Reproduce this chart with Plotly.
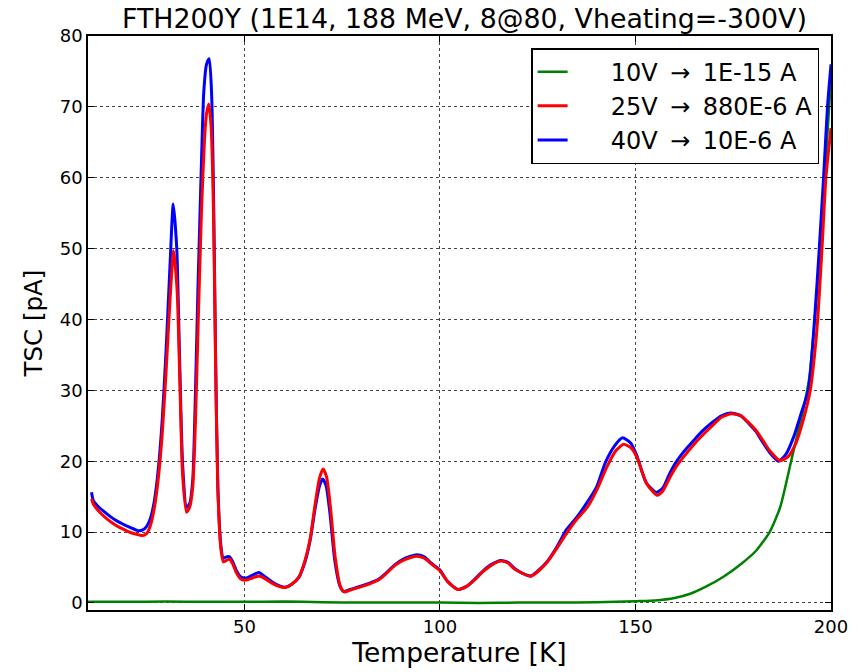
import plotly.graph_objects as go

# ---- data ----
t_red = [10.9, 11.5, 13, 15, 17, 19, 21, 23, 24, 25, 26, 27, 28, 29, 30, 31, 31.9, 32.8, 33.5, 34.2,
         35.2, 36, 36.8, 37.5, 38.2, 39, 39.8, 40.3, 40.9, 41.5, 42.1, 42.6, 43.2, 44.0, 44.6, 45.4,
         46.2, 47, 48, 49, 50, 51, 52, 53.7, 55, 57, 59, 60.5, 62, 63.9, 65.5, 66.8, 68.1, 69.2, 70.1,
         71.0, 72.0, 73.2, 74.5, 75.5, 77, 79.1, 82, 84.2, 86, 88.5, 91, 94, 96, 97.8, 99.9, 102, 104.6,
         107, 108.8, 111, 113.1, 115.6, 117.5, 119, 121, 123.2, 125, 127.5, 130, 132.6, 135, 137.7, 140,
         142.7, 145, 147, 149, 150.4, 152.9, 155.5, 157, 158.9, 160.5, 162.3, 165, 167.4, 170, 172,
         174.6, 177, 179, 180.9, 182.5, 184.3, 186.9, 189, 191, 193, 194.7, 195.8, 196.6, 197.7, 198.7, 200]
v_red = [14.7, 13.8, 12.8, 11.8, 11.0, 10.4, 9.9, 9.6, 9.5, 9.8, 11.0, 13.5, 17.7, 24.0, 33.0, 43.0, 49.7, 44.0, 31.0, 18.0,
         12.8, 13.5, 16.5, 26.0, 40.0, 55.0, 65.5, 69.0, 70.4, 67.0, 55.0, 35.0, 16.0, 7.5, 5.8, 6.0,
         6.2, 5.5, 4.2, 3.4, 3.2, 3.3, 3.5, 3.8, 3.5, 2.8, 2.3, 2.2, 2.6, 3.6, 6.0, 9.0, 14.0, 17.6, 18.9,
         17.8, 13.5, 6.5, 2.4, 1.55, 1.8, 2.15, 2.7, 3.2, 4.0, 5.3, 6.1, 6.6, 6.3, 5.5, 4.6, 3.0, 1.9,
         2.4, 3.2, 4.4, 5.3, 5.9, 5.6, 4.8, 4.2, 3.75, 4.4, 5.8, 7.8, 10.0, 11.8, 13.5, 15.8,
         19.2, 21.5, 22.4, 21.8, 20.5, 16.8, 15.2, 15.8, 17.8, 19.3, 20.6, 22.4, 23.8, 25.2, 26.2,
         26.7, 26.4, 25.4, 24.3, 23.0, 21.5, 20.1, 20.6, 22.5, 26.0, 30.0, 35.0, 40.0, 50.0, 60.0, 67.0]

t_blue = [10.9, 11.4, 13, 15, 17, 19, 21, 22.7, 24, 25, 26, 27, 28, 29, 30, 31, 31.8, 32.7, 33.4, 34.2,
          35.2, 36, 36.8, 37.4, 38.1, 39, 39.6, 40.3, 41.0, 41.6, 42.1, 42.6, 43.2, 44.0, 44.6, 45.4,
          46.2, 47, 48, 49, 50, 51, 52, 53.7, 55, 57, 59, 60.5, 62, 63.9, 65.5, 66.8, 68.1, 69.2, 70.0,
          70.9, 71.9, 73.1, 74.4, 75.4, 77, 79.1, 82, 84.2, 86, 88.5, 91, 94, 96, 97.8, 99.9, 102, 104.6,
          107, 108.8, 111, 113.1, 115.6, 117.5, 119, 121, 123.2, 125, 127.5, 130, 132.3, 135, 137.3, 140,
          142.3, 144.7, 146.7, 148.7, 150.2, 152.7, 155.3, 157, 158.7, 160.3, 162.0, 164.7, 167.0, 169.7, 172,
          174.4, 177, 179, 180.8, 182.4, 184.2, 186.6, 188.5, 190.5, 192.5, 194.2, 195.8, 197.0, 198.1, 199.1, 200]
v_blue = [15.6, 14.4, 13.4, 12.5, 11.7, 11.1, 10.6, 10.2, 10.3, 10.8, 12.0, 14.5, 19.0, 26.0, 36.0, 48.0, 56.3, 50.0, 35.0, 19.5,
          13.5, 14.0, 17.5, 28.0, 44.0, 62.0, 72.0, 76.0, 76.8, 72.0, 58.0, 36.0, 16.5, 8.0, 6.3, 6.5,
          6.5, 5.8, 4.5, 3.7, 3.5, 3.6, 3.9, 4.3, 3.8, 3.0, 2.4, 2.2, 2.6, 3.6, 5.8, 8.8, 13.4, 16.5, 17.5,
          16.5, 12.5, 6.0, 2.4, 1.6, 1.9, 2.25, 2.8, 3.3, 4.1, 5.4, 6.3, 6.8, 6.5, 5.6, 4.7, 3.0, 1.9,
          2.4, 3.3, 4.5, 5.4, 6.0, 5.7, 4.9, 4.2, 3.8, 4.5, 5.9, 8.0, 10.3, 12.1, 13.9, 16.3,
          19.8, 22.2, 23.3, 22.6, 21.0, 17.0, 15.6, 16.2, 18.2, 19.8, 21.1, 22.8, 24.2, 25.5, 26.4,
          26.8, 26.4, 25.3, 24.2, 22.8, 21.3, 20.0, 21.0, 23.5, 27.0, 30.0, 40.0, 50.0, 60.0, 70.0, 76.0]

t_green = [10, 20, 30, 40, 50, 60, 70, 80, 90, 100, 110, 120, 130, 140, 145, 150, 155, 160, 164,
           168, 172.5, 177, 180.9, 184.3, 187, 189.8, 191.5, 193, 194.5, 196, 197.3, 198.4, 199.3, 200]
v_green = [0.15, 0.15, 0.2, 0.15, 0.15, 0.2, 0.1, 0.05, 0.05, 0.05, 0.0, 0.05, 0.05, 0.1, 0.15, 0.25, 0.35, 0.7, 1.3,
           2.3, 3.7, 5.5, 7.4, 10.0, 13.5, 20.0, 24.0, 27.5, 32.0, 41.0, 50.0, 60.0, 68.0, 74.0]

NB = "\u00a0"
TH = "\u2009"
SEP = NB + TH + "\u2192" + TH + NB
labels = [NB * 5 + "10V" + SEP + "1E-15 A",
          NB * 5 + "25V" + SEP + "880E-6 A",
          NB * 5 + "40V" + SEP + "10E-6 A"]
x_ticks = [50, 100, 150, 200]
y_ticks = [0, 10, 20, 30, 40, 50, 60, 70, 80]

FONT = "DejaVu Sans"

fig = go.Figure()
fig.add_trace(go.Scatter(x=t_green, y=v_green, mode="lines", name=labels[0],
                         line=dict(color="#008000", width=2.5, shape="spline", smoothing=0.6),
                         legendrank=1, legendgroup="g"))
fig.add_trace(go.Scatter(x=t_blue, y=v_blue, mode="lines", name=labels[2],
                         line=dict(color="#0000ff", width=3, shape="spline", smoothing=0.6),
                         legendrank=3, legendgroup="b"))
fig.add_trace(go.Scatter(x=t_red, y=v_red, mode="lines", name=labels[1],
                         line=dict(color="#ff0000", width=3, shape="spline", smoothing=0.6),
                         legendrank=2, legendgroup="r"))

axis_common = dict(showline=True, linecolor="black", linewidth=1.5, mirror="ticks",
                   ticks="inside", ticklen=6, tickcolor="black", tickwidth=1,
                   showgrid=True, gridcolor="#444444", griddash="dot", gridwidth=1,
                   zeroline=False, tickfont=dict(family=FONT, size=18, color="black"))

fig.update_xaxes(range=[10, 200], tickvals=x_ticks, ticktext=[str(v) for v in x_ticks],
                 title=dict(text="Temperature [K]", font=dict(family=FONT, size=26.5, color="black"), standoff=4),
                 **axis_common)
fig.update_yaxes(range=[-1, 80], tickvals=y_ticks, ticktext=[str(v) for v in y_ticks],
                 title=dict(text="TSC [pA]", font=dict(family=FONT, size=24.5, color="black"), standoff=10),
                 **axis_common)

fig.update_layout(
    width=860, height=672,
    margin=dict(l=88, r=26, t=36, b=59),
    paper_bgcolor="white", plot_bgcolor="white",
    title=dict(text="FTH200Y (1E14, 188 MeV, 8@80, Vheating=-300V)",
               font=dict(family=FONT, size=26.8, color="black"),
               x=0.54, xanchor="center", y=0.973, yanchor="middle"),
    legend=dict(x=0.984, y=0.979, xanchor="right", yanchor="top",
                bgcolor="white", bordercolor="black", borderwidth=1.5,
                font=dict(family=FONT, size=24, color="black"),
                tracegroupgap=0, itemwidth=30),
    showlegend=True,
)

fig.write_html("out.html")
